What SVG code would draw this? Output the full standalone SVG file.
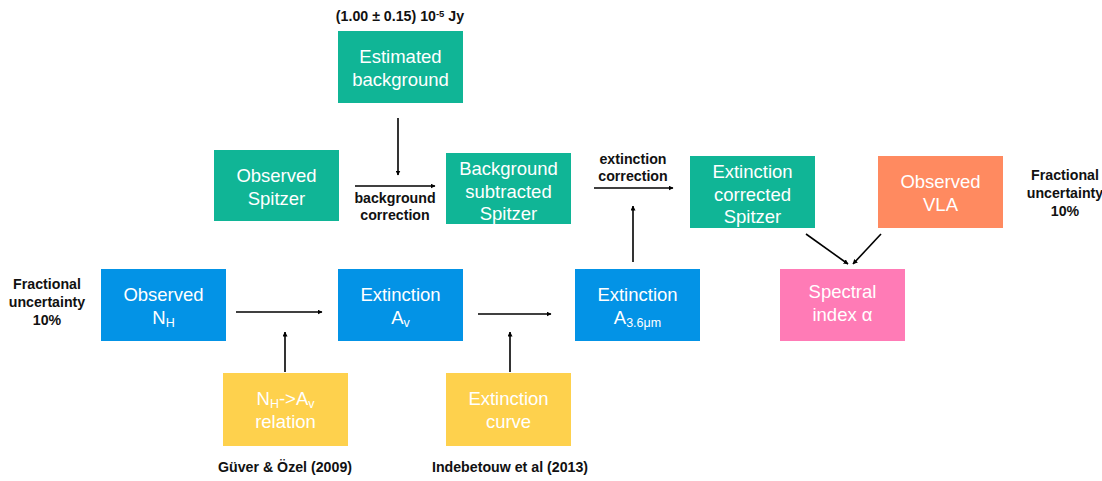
<svg xmlns="http://www.w3.org/2000/svg" width="1102" height="481" viewBox="0 0 1102 481">
<defs>
<style>
.box text{font-family:"Liberation Sans",Arial,sans-serif;font-size:18.5px;fill:#fff;text-anchor:middle}
.lbl{font-family:"Liberation Sans",Arial,sans-serif;font-size:14.2px;font-weight:bold;fill:#111;text-anchor:middle}
.teal{fill:#10B596}
.blue{fill:#0393E6}
.orange{fill:#FF8A60}
.pink{fill:#FF7BB6}
.yellow{fill:#FED14D}
#connectors line{stroke:#000;stroke-width:1.6;marker-end:url(#ah)}
.sub{font-size:12.5px}
</style>
<marker id="ah" viewBox="0 0 10 10" refX="9" refY="5" markerWidth="5" markerHeight="5" orient="auto" markerUnits="userSpaceOnUse" >
<path d="M0,0 L10,5 L0,10 z" fill="#000"/>
</marker>
</defs>
<rect width="1102" height="481" fill="#fff"/>

<g id="estimated" class="box"><rect class="teal" x="338" y="31" width="125" height="72"/>
<text x="400.5" y="63">Estimated</text><text x="400.5" y="86">background</text></g>

<g id="obs-spitzer" class="box"><rect class="teal" x="214" y="150" width="125" height="71"/>
<text x="276.5" y="182">Observed</text><text x="276.5" y="205">Spitzer</text></g>

<g id="bg-sub" class="box"><rect class="teal" x="446" y="153" width="125" height="71"/>
<text x="508.5" y="175">Background</text><text x="508.5" y="198">subtracted</text><text x="508.5" y="220">Spitzer</text></g>

<g id="ext-corr" class="box"><rect class="teal" x="690" y="156" width="125" height="72"/>
<text x="752.5" y="178">Extinction</text><text x="752.5" y="201">corrected</text><text x="752.5" y="223">Spitzer</text></g>

<g id="obs-vla" class="box"><rect class="orange" x="878" y="156" width="125" height="72"/>
<text x="940.5" y="188">Observed</text><text x="940.5" y="211">VLA</text></g>

<g id="obs-nh" class="box"><rect class="blue" x="101" y="269" width="125" height="72"/>
<text x="163.5" y="301">Observed</text><text x="163.5" y="324">N<tspan class="sub" dy="3">H</tspan></text></g>

<g id="ext-av" class="box"><rect class="blue" x="338" y="269" width="125" height="72"/>
<text x="400.5" y="301">Extinction</text><text x="400.5" y="324">A<tspan class="sub" dy="3">v</tspan></text></g>

<g id="ext-a36" class="box"><rect class="blue" x="575" y="269" width="125" height="72"/>
<text x="637.5" y="301">Extinction</text><text x="637.5" y="324">A<tspan class="sub" dy="3">3.6μm</tspan></text></g>

<g id="spectral" class="box"><rect class="pink" x="780" y="269" width="125" height="72"/>
<text x="842.5" y="298">Spectral</text><text x="842.5" y="321">index α</text></g>

<g id="relation" class="box"><rect class="yellow" x="223" y="373" width="125" height="73"/>
<text x="285.5" y="405">N<tspan class="sub" dy="3">H</tspan><tspan dy="-3">-&gt;A</tspan><tspan class="sub" dy="3">v</tspan></text><text x="285.5" y="428">relation</text></g>

<g id="curve" class="box"><rect class="yellow" x="446" y="373" width="125" height="73"/>
<text x="508.5" y="405">Extinction</text><text x="508.5" y="428">curve</text></g>

<g id="connectors">
<line x1="398" y1="118" x2="398" y2="175"/>
<line x1="355" y1="186" x2="435" y2="186"/>
<line x1="594" y1="188" x2="673" y2="188"/>
<line x1="633" y1="262" x2="633" y2="206"/>
<line x1="236" y1="312" x2="322" y2="312"/>
<line x1="478" y1="314" x2="551" y2="314"/>
<line x1="285" y1="372" x2="285" y2="332"/>
<line x1="510" y1="372" x2="510" y2="332"/>
<line x1="806" y1="234" x2="848" y2="264"/>
<line x1="881" y1="234" x2="853" y2="264"/>
</g>

<g id="labels">
<text class="lbl" x="400" y="21">(1.00 ± 0.15) 10<tspan font-size="9.5" dy="-4">-5</tspan><tspan dy="4"> Jy</tspan></text>
<text class="lbl" x="395" y="203">background</text>
<text class="lbl" x="395" y="220">correction</text>
<text class="lbl" x="633" y="164">extinction</text>
<text class="lbl" x="633" y="181">correction</text>
<text class="lbl" x="47" y="289">Fractional</text>
<text class="lbl" x="47" y="307">uncertainty</text>
<text class="lbl" x="47" y="325">10%</text>
<text class="lbl" x="1065" y="180">Fractional</text>
<text class="lbl" x="1065" y="198">uncertainty</text>
<text class="lbl" x="1065" y="216">10%</text>
<text class="lbl" x="285" y="472">Güver &amp; Özel (2009)</text>
<text class="lbl" x="510" y="472">Indebetouw et al (2013)</text>
</g>
</svg>
